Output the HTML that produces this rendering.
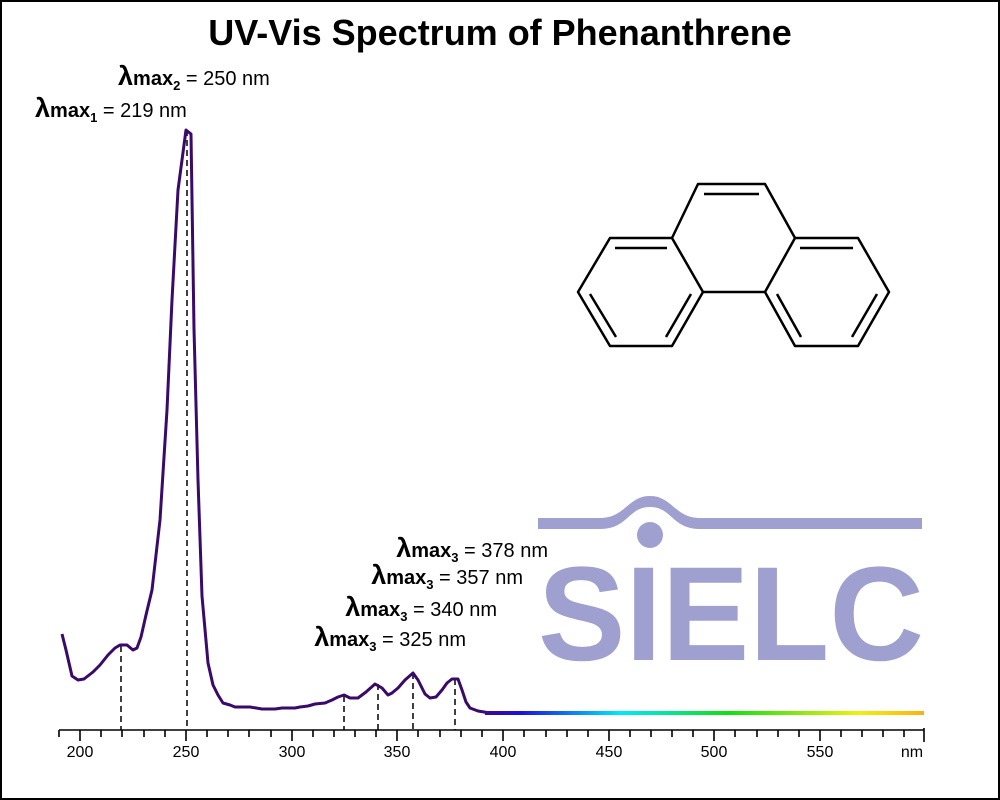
<!DOCTYPE html>
<html><head><meta charset="utf-8"><style>
body{margin:0;background:#fff}
svg{display:block}
text{font-family:"Liberation Sans",Arial,sans-serif}
</style></head><body>
<svg width="1000" height="800" viewBox="0 0 1000 800">
<defs>
<linearGradient id="g" x1="490" x2="924" gradientUnits="userSpaceOnUse">
<stop offset="0" stop-color="#3a0a9a"/><stop offset="0.07" stop-color="#1a10e0"/>
<stop offset="0.3" stop-color="#00e8ff"/><stop offset="0.55" stop-color="#10e010"/>
<stop offset="0.85" stop-color="#f0f010"/><stop offset="1" stop-color="#ffb010"/>
</linearGradient>
</defs>
<rect x="1" y="1" width="998" height="798" fill="#fff" stroke="#000" stroke-width="2"/>
<text x="500" y="45" text-anchor="middle" font-size="36" font-weight="bold">UV-Vis Spectrum of Phenanthrene</text>

<g fill="#9fa0cf">
<path d="M538,518 H600 C625,518 628,496 650,496 C672,496 675,518 700,518 H922 V529 H700 C672,529 672,507 650,507 C628,507 628,529 600,529 H538 Z"/>
<circle cx="650" cy="535" r="13"/>
<text x="538" y="660" font-size="134" font-weight="bold" textLength="386" lengthAdjust="spacingAndGlyphs">SIELC</text>
</g>

<g stroke="#000" stroke-width="2.5" fill="none" stroke-linejoin="round">
<polygon points="610,238 672,238 703,292 672,346 610,346 578,292"/>
<polygon points="795,238 858,238 889,292 858,346 795,346 765,292"/>
<polyline points="672,238 698,184 765,184 795,238"/>
<line x1="703" y1="292" x2="765" y2="292"/>
<line x1="704" y1="194" x2="759" y2="194"/>
<line x1="615" y1="248" x2="667" y2="248"/>
<line x1="590" y1="294" x2="616" y2="337"/>
<line x1="691" y1="294" x2="666" y2="337"/>
<line x1="800" y1="248" x2="853" y2="248"/>
<line x1="877" y1="294" x2="852" y2="337"/>
<line x1="777" y1="294" x2="801" y2="337"/>
</g>

<g stroke="#000" stroke-width="1.6">
<line x1="59" y1="730" x2="924" y2="730"/>
<path d="M59,730V737 M80,730V741 M101,730V737 M122,730V737 M144,730V737 M165,730V737 M186,730V741 M207,730V737 M228,730V737 M249,730V737 M271,730V737 M292,730V741 M313,730V737 M334,730V737 M355,730V737 M376,730V737 M397,730V741 M418,730V737 M440,730V737 M461,730V737 M482,730V737 M503,730V741 M524,730V737 M546,730V737 M567,730V737 M588,730V737 M609,730V741 M630,730V737 M651,730V737 M672,730V737 M693,730V737 M714,730V741 M735,730V737 M757,730V737 M778,730V737 M799,730V737 M820,730V741 M841,730V737 M862,730V737 M883,730V737 M904,730V737 M924,728V742"/>
</g>
<g font-size="16" text-anchor="middle">
<text x="80" y="757">200</text><text x="186" y="757">250</text><text x="292" y="757">300</text>
<text x="397" y="757">350</text><text x="503" y="757">400</text><text x="609" y="757">450</text>
<text x="714" y="757">500</text><text x="820" y="757">550</text><text x="912" y="757">nm</text>
</g>

<g stroke="#000" stroke-width="1.5" stroke-dasharray="6,4">
<line x1="121" y1="646" x2="121" y2="730"/>
<line x1="187" y1="130" x2="187" y2="730"/>
<line x1="344" y1="696" x2="344" y2="730"/>
<line x1="378" y1="684" x2="378" y2="730"/>
<line x1="413" y1="673" x2="413" y2="730"/>
<line x1="455" y1="679" x2="455" y2="730"/>
</g>

<polyline fill="none" stroke="#3a0a6a" stroke-width="3" stroke-linejoin="round" points="62,634 66,650 72,676 78,680 84,679 93,672 100,665 108,655 115,648 120,645 127,645 133,650 137,648 141,637 146,615 152,590 160,520 167,410 172,300 178,190 182,160 186,130 191,134 194,329 198,480 202,596 208,663 213,685 218,695 223,703 230,705 235,707 250,707 262,709 275,709 282,708 295,708 300,707 308,706 315,704 325,703 332,700 338,697 344,695 350,698 358,698 366,692 375,684 382,688 388,695 392,693 398,688 405,680 413,673 418,680 425,694 430,698 436,697 442,690 447,683 452,679 458,679 462,690 466,702 470,708 478,711 490,713"/>
<line x1="485" y1="713" x2="924" y2="713" stroke="url(#g)" stroke-width="4"/>

<g font-size="20">
<text x="118" y="85"><tspan font-size="27" font-weight="bold">λ</tspan><tspan font-weight="bold">max</tspan><tspan font-size="13" font-weight="bold" dy="5">2</tspan><tspan dy="-5"> = 250 nm</tspan></text>
<text x="35" y="117"><tspan font-size="27" font-weight="bold">λ</tspan><tspan font-weight="bold">max</tspan><tspan font-size="13" font-weight="bold" dy="5">1</tspan><tspan dy="-5"> = 219 nm</tspan></text>
<text x="548" y="557" text-anchor="end"><tspan font-size="27" font-weight="bold">λ</tspan><tspan font-weight="bold">max</tspan><tspan font-size="13" font-weight="bold" dy="5">3</tspan><tspan dy="-5"> = 378 nm</tspan></text>
<text x="523" y="584" text-anchor="end"><tspan font-size="27" font-weight="bold">λ</tspan><tspan font-weight="bold">max</tspan><tspan font-size="13" font-weight="bold" dy="5">3</tspan><tspan dy="-5"> = 357 nm</tspan></text>
<text x="497" y="616" text-anchor="end"><tspan font-size="27" font-weight="bold">λ</tspan><tspan font-weight="bold">max</tspan><tspan font-size="13" font-weight="bold" dy="5">3</tspan><tspan dy="-5"> = 340 nm</tspan></text>
<text x="466" y="646" text-anchor="end"><tspan font-size="27" font-weight="bold">λ</tspan><tspan font-weight="bold">max</tspan><tspan font-size="13" font-weight="bold" dy="5">3</tspan><tspan dy="-5"> = 325 nm</tspan></text>
</g>
</svg>
</body></html>
